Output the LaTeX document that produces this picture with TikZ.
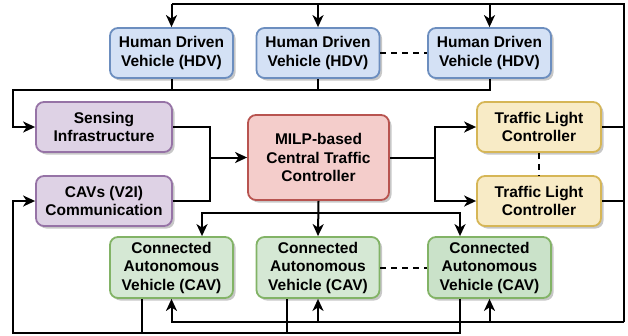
\documentclass[tikz,border=0pt]{standalone}
\usepackage{fontspec}
\setmainfont{Liberation Sans}
\usetikzlibrary{arrows.meta,shadows}
\definecolor{hdvfill}{HTML}{D4E1F5}
\definecolor{hdvline}{HTML}{6C8EBF}
\definecolor{purfill}{HTML}{DED2E5}
\definecolor{purline}{HTML}{9673A6}
\definecolor{redfill}{HTML}{F4CDCB}
\definecolor{redline}{HTML}{B85450}
\definecolor{yelfill}{HTML}{F8EBC6}
\definecolor{yelline}{HTML}{D6B656}
\definecolor{grnfill}{HTML}{D5E8D4}
\definecolor{grnfillb}{HTML}{CAE2C9}
\definecolor{grnline}{HTML}{82B366}
\begin{document}
\begin{tikzpicture}[x=1pt,y=-1pt,
  box/.style={rectangle,rounded corners=8pt,line width=1.8pt,align=center,
    font=\fontsize{15.5}{18.5}\selectfont\bfseries,inner sep=0pt,
    drop shadow={shadow xshift=2.5pt,shadow yshift=-2.5pt,fill=black,opacity=0.22}},
  hdv/.style={box,draw=hdvline,fill=hdvfill,minimum width=123pt,minimum height=50pt},
  pur/.style={box,draw=purline,fill=purfill,minimum width=136pt,minimum height=50pt},
  red/.style={box,draw=redline,fill=redfill,minimum width=141pt,minimum height=85pt},
  yel/.style={box,draw=yelline,fill=yelfill,minimum width=124pt,minimum height=50pt},
  cav/.style={box,draw=grnline,fill=grnfill,minimum width=123pt,minimum height=61pt},
  wire/.style={line width=2pt,draw=black},
  arr/.style={wire,-{Stealth[length=12pt,width=11pt,inset=3.5pt]}},
  dsh/.style={wire,dash pattern=on 6pt off 5pt}]
\useasboundingbox (0,0) rectangle (628,335);
% nodes
\node[hdv] (H1) at (171.5,53) {Human Driven\\Vehicle (HDV)};
\node[hdv] (H2) at (318,53) {Human Driven\\Vehicle (HDV)};
\node[hdv] (H3) at (489.5,53) {Human Driven\\Vehicle (HDV)};
\node[pur] (S) at (104,127) {Sensing\\Infrastructure};
\node[pur] (V) at (104,201) {CAVs (V2I)\\Communication};
\node[red] (M) at (318.5,157.5) {MILP-based\\Central Traffic\\Controller};
\node[yel] (T1) at (539,127) {Traffic Light\\Controller};
\node[yel] (T2) at (539,201) {Traffic Light\\Controller};
\node[cav] (C1) at (171.5,267.5) {Connected\\Autonomous\\Vehicle (CAV)};
\node[cav] (C2) at (318,267.5) {Connected\\Autonomous\\Vehicle (CAV)};
\node[cav,fill=grnfillb] (C3) at (489.5,267.5) {Connected\\Autonomous\\Vehicle (CAV)};
% coordinates
\coordinate (tr) at (624,4);
\coordinate (br) at (624,322);
\coordinate (bl) at (13,333);
\coordinate (hl) at (13,90);
\coordinate (mj) at (210,157.5);
\coordinate (tj) at (435,157.5);
\coordinate (cj) at (318,213);
% top / right bus
\draw[wire] (br) -- (tr) -- (H1.north |- tr);
\draw[arr] (H1.north |- tr) -- (H1.north);
\draw[arr] (H2.north |- tr) -- (H2.north);
\draw[arr] (H3.north |- tr) -- (H3.north);
\draw[wire] (T1.east) -- (T1.east -| tr);
\draw[wire] (T2.east) -- (T2.east -| tr);
\draw[arr] (br) -| (C1.south);
\draw[arr] (C2.south |- br) -- (C2.south);
\draw[arr] (C3.south |- br) -- (C3.south);
% CAV outputs to V2I
\draw[arr] ([xshift=-29.5pt]C3.south) |- (bl) |- (V.west);
\draw[wire] ([xshift=-29.5pt]C1.south) -- ([xshift=-29.5pt]C1.south |- bl);
\draw[wire] ([xshift=-31pt]C2.south) -- ([xshift=-31pt]C2.south |- bl);
% HDV outputs to sensing
\draw[arr] (H3.south) |- (hl) |- (S.west);
\draw[wire] (H1.south) -- (H1.south |- hl);
\draw[wire] (H2.south) -- (H2.south |- hl);
% inputs to MILP
\draw[wire] (S.east) -| (mj);
\draw[wire] (V.east) -| (mj);
\draw[arr] (mj) -- (M.west);
% MILP to TLC
\draw[wire] (M.east) -- (tj);
\draw[arr] (tj) |- (T1.west);
\draw[arr] (tj) |- (T2.west);
% MILP to CAVs
\draw[arr] (M.south) -- (C2.north);
\draw[arr] (cj) -| ([xshift=30.5pt]C1.north);
\draw[arr] (cj) -| ([xshift=-29.5pt]C3.north);
% dashed links
\draw[dsh] (H2.east) -- (H3.west);
\draw[dsh] (C2.east) -- (C3.west);
\draw[dsh] (T1.south) -- (T2.north);
\end{tikzpicture}
\end{document}
